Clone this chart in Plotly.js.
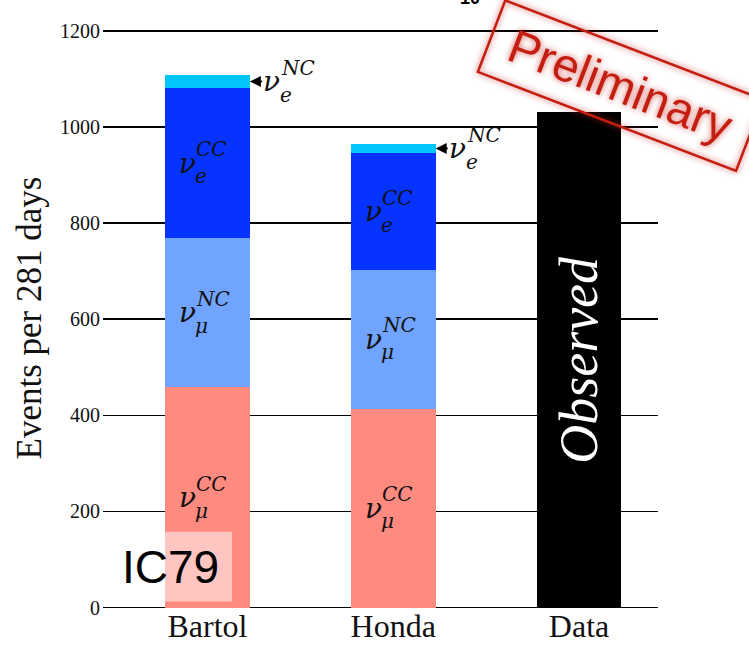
<!DOCTYPE html>
<html>
<head>
<meta charset="utf-8">
<script src="https://cdn.plot.ly/plotly-3.0.1.min.js"></script>
<style>
  html, body { margin: 0; padding: 0; background: #fff; }
  #chart { width: 749px; height: 645px; }
</style>
</head>
<body>
<div id="chart"></div>
<script>
// Event counts per 281 days, by flux model, and the observed total
const categories = ['Bartol', 'Honda', 'Data'];
const numuCC = [458, 414, null];
const numuNC = [310, 289, null];
const nueCC  = [312, 242, null];
const nueNC  = [29, 20, null];
const observed = [null, null, 1031];
const yTicks = [0, 200, 400, 600, 800, 1000, 1200];

const SERIF = '"Liberation Serif", "Times New Roman", Times, serif';
const MATH = '"DejaVu Serif", "Liberation Serif", serif';
const SANS = '"Liberation Sans", Arial, Helvetica, sans-serif';
const BAR_W = 0.457;

function barTrace(y, color, name) {
  return {
    type: 'bar', x: categories, y: y, name: name, width: BAR_W,
    marker: { color: color, line: { width: 0 } },
    hoverinfo: 'skip', showlegend: false
  };
}

const traces = [
  barTrace(numuCC, '#FF8A80', 'numu CC'),
  barTrace(numuNC, '#70A4FF', 'numu NC'),
  barTrace(nueCC,  '#0633FF', 'nue CC'),
  barTrace(nueNC,  '#00C6FA', 'nue NC'),
  barTrace(observed, '#000000', 'observed')
];

// nu label built from three pieces: symbol, superscript and subscript
function nuLabel(cat, yv, sup, sub, dx) {
  const base = { x: cat, y: yv, xref: 'x', yref: 'y', showarrow: false, yanchor: 'middle' };
  return [
    Object.assign({}, base, { text: 'ν', xanchor: 'center', xshift: dx,
      font: { family: MATH, size: 28, color: '#111', style: 'italic' } }),
    Object.assign({}, base, { text: sup, xanchor: 'left', xshift: dx + 7, yshift: 14,
      font: { family: MATH, size: 20, color: '#111', style: 'italic' } }),
    Object.assign({}, base, { text: sub, xanchor: 'left', xshift: dx + 6, yshift: -13,
      font: { family: MATH, size: 20, color: '#111', style: 'italic' } })
  ];
}

const annotations = [];
for (let i = 0; i < 2; i++) {
  const c = categories[i];
  const s1 = numuCC[i], s2 = s1 + numuNC[i], s3 = s2 + nueCC[i], s4 = s3 + nueNC[i];
  annotations.push(...nuLabel(c, s1 / 2, 'CC', 'μ', -20));
  annotations.push(...nuLabel(c, (s1 + s2) / 2, 'NC', 'μ', -20));
  annotations.push(...nuLabel(c, (s2 + s3) / 2, 'CC', 'e', -20));
  // arrow pointing at the thin nue NC slice
  const yMid = (s3 + s4) / 2;
  annotations.push({
    x: i + BAR_W / 2, y: yMid, xref: 'x', yref: 'y', text: ' ',
    showarrow: true, ax: 15, ay: 0, axref: 'pixel', ayref: 'pixel',
    arrowhead: 2, arrowsize: 1.1, arrowwidth: 2, arrowcolor: '#000', standoff: 0, startstandoff: 0
  });
  annotations.push(...nuLabel(c, yMid, 'NC', 'e', 0).map(a => {
    a.x = i + BAR_W / 2; a.xshift += 22; return a;
  }));
}

annotations.push({
  x: 2, y: observed[2] / 2, xref: 'x', yref: 'y', text: 'Observed', showarrow: false,
  textangle: -90, font: { family: SERIF, size: 54, color: '#ffffff', style: 'italic' }
});

annotations.push({
  x: -0.2, y: 85, xref: 'x', yref: 'y', text: 'IC79', showarrow: false,
  font: { family: SANS, size: 46, color: '#000' }
});

annotations.push({
  x: (470 - 103) / 555, y: (610.4 + 2) / 584.4, xref: 'paper', yref: 'paper', text: '<b>10</b>',
  xanchor: 'center', yanchor: 'middle',
  showarrow: false, font: { family: SANS, size: 18, color: '#000' }
});

annotations.push({
  x: (620 - 103) / 555, y: (610.4 - 86) / 584.4, xref: 'paper', yref: 'paper',
  xanchor: 'center', yanchor: 'middle',
  text: 'Preliminary', showarrow: false, textangle: 21,
  width: 270, height: 70, borderpad: 2,
  bordercolor: '#C41E10', borderwidth: 2.5,
  font: { family: SANS, size: 47, color: '#C41E10' }
});

const layout = {
  width: 749, height: 645,
  margin: { l: 103, r: 91, t: 26, b: 35 },
  paper_bgcolor: '#ffffff', plot_bgcolor: '#ffffff',
  barmode: 'stack',
  showlegend: false,
  xaxis: {
    type: 'category', range: [-0.562, 2.425],
    showgrid: false, zeroline: false, showline: false, ticks: '', ticklabelstandoff: -6,
    tickfont: { family: SERIF, size: 32, color: '#111' }
  },
  yaxis: {
    range: [-5, 1210], tickvals: yTicks, ticktext: yTicks.map(String),
    showgrid: true, gridcolor: '#000', gridwidth: 1.6,
    zeroline: false, showline: false, ticks: '', ticklabelstandoff: 2,
    tickfont: { family: SERIF, size: 20, color: '#111' },
    title: { text: 'Events per 281 days', standoff: 7,
      font: { family: SERIF, size: 35, color: '#111' } }
  },
  shapes: [{
    type: 'rect', xref: 'x', yref: 'y', layer: 'above',
    x0: -0.481, x1: 0.132, y0: 12.5, y1: 158,
    fillcolor: 'rgba(255,255,255,0.5)', line: { width: 0 }
  }],
  annotations: annotations
};

Plotly.newPlot('chart', traces, layout, { displayModeBar: false, staticPlot: true }).then(function () {
  document.querySelectorAll('.annotation').forEach(function (g) {
    if (g.textContent.trim() === 'Preliminary') {
      g.style.filter = 'drop-shadow(0 0 3px rgba(200,30,30,0.75))';
    }
  });
});
</script>
</body>
</html>
